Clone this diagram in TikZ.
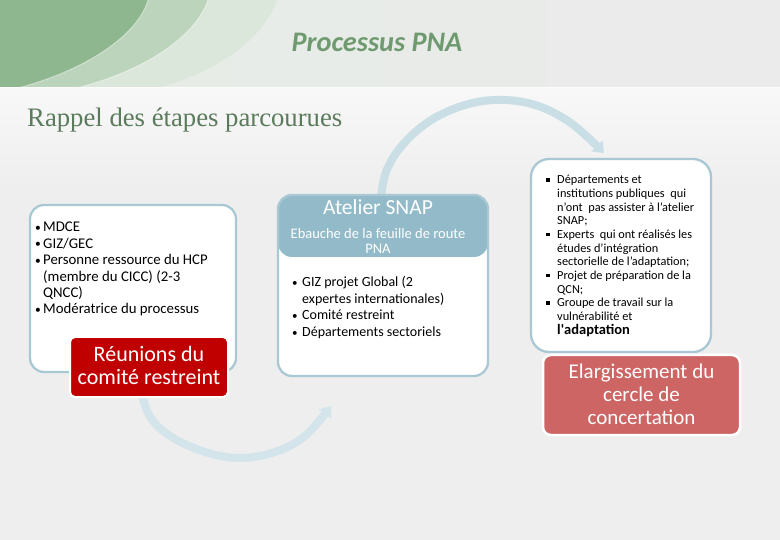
\documentclass[tikz,border=0pt]{standalone}
\usepackage{fontspec}
\setmainfont{Carlito}
\newfontfamily\serifR{Liberation Serif}
\usetikzlibrary{arrows.meta}
\definecolor{bgc}{HTML}{EEEEEE}
\definecolor{hdrL}{HTML}{E6ECE6}
\definecolor{hdrR}{HTML}{EBEBEB}
\definecolor{swA}{HTML}{8EB68F}
\definecolor{swB}{HTML}{BCD4BC}
\definecolor{swC}{HTML}{DCE7DC}
\definecolor{titc}{HTML}{6F9A70}
\definecolor{subc}{HTML}{5B7B5C}
\definecolor{arcc}{HTML}{CADEE6}
\definecolor{arcd}{HTML}{D3E5EB}
\definecolor{bord}{HTML}{A9C8D3}
\definecolor{hdr}{HTML}{93BAC8}
\definecolor{redc}{HTML}{C00000}
\definecolor{pinkc}{HTML}{CD6565}
\newcommand\Lleft[1]{\vtop{\halign{##\hfil\cr#1\crcr}}}
\newcommand\Lcent[1]{\vtop{\halign{\hfil##\hfil\cr#1\crcr}}}
\newcommand\mybulA{\makebox[8pt][l]{\fontsize{11.5}{11}\selectfont\raisebox{0.5pt}{•}}}
\newcommand\myindA{\hspace*{8pt}}
\newcommand\mybulB{\makebox[10pt][l]{\fontsize{11}{11}\selectfont\raisebox{0.4pt}{•}}}
\newcommand\myindB{\hspace*{10pt}}
\newcommand\mysqC{\makebox[11pt][l]{\raisebox{2.3pt}{\rule{3.4pt}{3.4pt}}}}
\newcommand\myindC{\hspace*{11pt}}
\tikzset{
  boxw/.style={draw=bord, line width=2.3pt, fill=white, rounded corners=14pt, inner sep=0pt},
  redbox/.style={draw=white, line width=2pt, fill=redc, rounded corners=5pt, inner sep=0pt},
  pinkbox/.style={draw=white, line width=2.5pt, fill=pinkc, rounded corners=8pt, inner sep=0pt},
  txt/.style={inner sep=0pt, text=black},
  wtxt/.style={inner sep=0pt, text=white},
  bigarc/.style={line width=8pt, line cap=butt, -{Triangle[width=15pt,length=10pt]}}
}
\begin{document}
\begin{tikzpicture}[x=1pt,y=-1pt]
\useasboundingbox (0,0) rectangle (780,540);
% background
\fill[bgc] (0,0) rectangle (780,540);
\fill[top color=white!60!bgc, bottom color=bgc] (0,87) rectangle (780,190);
\fill[left color=hdrL, right color=hdrR] (0,0) rectangle (780,87);
\begin{scope}
  \clip (0,0) rectangle (780,87);
  \fill[swC] (0,0) -- (277,0) .. controls (262,42) and (212,78) .. (128,96) -- (0,96) -- cycle;
  \fill[swB] (0,0) -- (208,0) .. controls (195,38) and (140,76) .. (55,93) -- (0,93) -- cycle;
  \fill[swA] (0,0) -- (148,0) .. controls (138,35) and (85,72) .. (10,90) -- (0,90) -- cycle;
  \draw[white, opacity=.45, line width=1pt] (208,0) .. controls (195,38) and (140,76) .. (55,93);
  \draw[white, opacity=.45, line width=1pt] (148,0) .. controls (138,35) and (85,72) .. (10,90);
\end{scope}
\draw[white, opacity=.6, line width=1pt] (0,87.5) -- (780,87.5);
% titles
\node[inner sep=0pt, text=titc, font=\fontsize{28.3}{30}\selectfont\bfseries\itshape, anchor=base] (title) at (377,52) {Processus PNA};
\node[inner sep=0pt, text=subc, font=\serifR\fontsize{26.7}{28}\selectfont, anchor=base west] (sub) at (27,127) {Rappel des étapes parcourues};
% arcs
\draw[arcc, bigarc] plot[smooth, tension=.6] coordinates {(379,215) (386,172) (407,140) (440,115) (483,101) (528,103) (568,121) (604,153)};
\draw[arcd, bigarc] plot[smooth, tension=.6] coordinates {(140,385) (149,415) (170,436) (205,452) (240,458) (275,452) (305,436) (331,406)};
% box 1
\node[boxw, minimum width=206pt, minimum height=167pt] (b1) at (133,288.5) {};
\node[txt, anchor=base west, font=\fontsize{14.8}{16.4}\selectfont] (t1) at (35,232)
  {\Lleft{\mybulA MDCE\cr \mybulA GIZ/GEC\cr \mybulA Personne ressource du HCP\cr \myindA(membre du CICC) (2-3\cr \myindA QNCC)\cr \mybulA Modératrice du processus}};
\node[redbox, minimum width=158pt, minimum height=60pt] (r1) at (149,367) {};
\node[wtxt, anchor=base, font=\fontsize{22}{23}\selectfont] (r1t) at (149,362) {\Lcent{Réunions du\cr comité restreint}};
% box 2
\node[boxw, minimum width=210pt, minimum height=181pt,
  path picture={\fill[hdr] (path picture bounding box.north west) rectangle ([yshift=-62pt]path picture bounding box.north east);}] (b2) at (383,285.5) {};
\node[wtxt, anchor=base, font=\fontsize{21.5}{23}\selectfont] (b2h) at (378,215) {Atelier SNAP};
\node[wtxt, anchor=base, font=\fontsize{14.5}{15}\selectfont] (b2s) at (378,238.6) {\Lcent{Ebauche de la feuille de route\cr PNA}};
\node[txt, anchor=base west, font=\fontsize{14}{16.7}\selectfont] (t2) at (292,286.5)
  {\Lleft{\mybulB GIZ projet Global (2\cr \myindB expertes internationales)\cr \mybulB Comité restreint\cr \mybulB Départements sectoriels}};
% box 3
\node[boxw, rounded corners=18pt, minimum width=180pt, minimum height=193pt] (b3) at (621,255.5) {};
\node[txt, anchor=base west, font=\fontsize{12.3}{13.65}\selectfont] (t3) at (546,184)
  {\Lleft{\mysqC Départements et\cr \myindC institutions publiques\ \ qui\cr \myindC n’ont\ \ pas assister à l’atelier\cr \myindC SNAP;\cr
   \mysqC Experts\ \ qui ont réalisés les\cr \myindC études d’intégration\cr \myindC sectorielle de l’adaptation;\cr
   \mysqC Projet de préparation de la\cr \myindC QCN;\cr \mysqC Groupe de travail sur la\cr \myindC vulnérabilité et\cr \myindC{\fontsize{14.5}{13.65}\selectfont\bfseries l\textquotesingle adaptation}}};
\node[pinkbox, minimum width=197pt, minimum height=80pt] (p1) at (641.5,395) {};
\node[wtxt, anchor=base, font=\fontsize{21}{23}\selectfont] (p1t) at (641.5,379) {\Lcent{Elargissement du\cr cercle de\cr concertation}};
\end{tikzpicture}
\end{document}
